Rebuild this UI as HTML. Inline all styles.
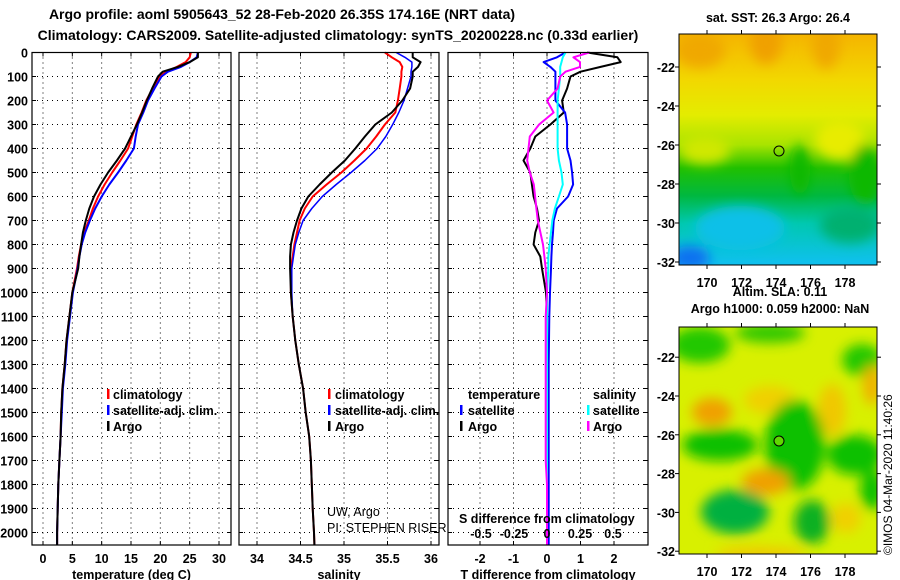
<!DOCTYPE html>
<html><head><meta charset="utf-8"><style>
body{margin:0;background:#fff;}
svg{display:block;font-family:"Liberation Sans",Arial,sans-serif;font-weight:bold;}
</style></head><body>
<svg id="c" width="900" height="580" viewBox="0 0 900 580">
<defs>
<filter id="bl" x="-50%" y="-50%" width="200%" height="200%"><feGaussianBlur stdDeviation="6"/></filter>
<filter id="bl2" x="-50%" y="-50%" width="200%" height="200%"><feGaussianBlur stdDeviation="6"/></filter>
<clipPath id="m1c"><rect x="679" y="34" width="198" height="231"/></clipPath>
<clipPath id="m2c"><rect x="679" y="327" width="198" height="227"/></clipPath>
<linearGradient id="sst" x1="0" y1="0" x2="0" y2="1">
<stop offset="0" stop-color="#f5b400"/><stop offset="0.2" stop-color="#f2d800"/>
<stop offset="0.35" stop-color="#e4ec00"/><stop offset="0.48" stop-color="#a8e400"/>
<stop offset="0.58" stop-color="#20c000"/><stop offset="0.7" stop-color="#00b840"/>
<stop offset="0.82" stop-color="#00c8b0"/><stop offset="1" stop-color="#10c0f0"/>
</linearGradient>
</defs>
<text x="282" y="19" text-anchor="middle" font-size="14">Argo profile: aoml 5905643_52 28-Feb-2020 26.35S 174.16E (NRT data)</text>
<text x="338" y="40" text-anchor="middle" font-size="14">Climatology: CARS2009. Satellite-adjusted climatology: synTS_20200228.nc (0.33d earlier)</text>
<g id="plots"></g>
<g>
<text x="778" y="22" text-anchor="middle" font-size="12.5">sat. SST: 26.3 Argo: 26.4</text>
<g clip-path="url(#m1c)">
<rect x="679" y="34" width="198" height="231" fill="url(#sst)"/>
<g filter="url(#bl2)">
<ellipse cx="700" cy="50" rx="25" ry="18" fill="#f0a800"/>
<ellipse cx="766" cy="42" rx="16" ry="22" fill="#f0a000"/>
<ellipse cx="826" cy="45" rx="14" ry="24" fill="#f0a800"/>
<ellipse cx="840" cy="140" rx="25" ry="20" fill="#e8ec00"/>
<ellipse cx="705" cy="150" rx="25" ry="14" fill="#d0e800"/>
<ellipse cx="800" cy="170" rx="10" ry="25" fill="#10b800"/>
<ellipse cx="865" cy="175" rx="16" ry="30" fill="#10b800"/>
<ellipse cx="740" cy="228" rx="45" ry="22" fill="#10c0e8"/>
<ellipse cx="690" cy="258" rx="20" ry="12" fill="#1070f0"/>
<ellipse cx="850" cy="225" rx="30" ry="18" fill="#00b070"/>
</g>
</g>
<rect x="679" y="34" width="198" height="231" fill="none" stroke="#000"/>
<circle cx="779" cy="151" r="5" fill="none" stroke="#000"/>
<g id="m1ax"></g>
<text x="780" y="296" text-anchor="middle" font-size="12.5">Altim. SLA: 0.11</text>
<text x="780" y="313" text-anchor="middle" font-size="12.5">Argo h1000: 0.059 h2000: NaN</text>
</g>
<g>
<g clip-path="url(#m2c)">
<rect x="679" y="327" width="198" height="227" fill="#d8f000"/>
<g filter="url(#bl)">
<ellipse cx="700" cy="345" rx="30" ry="18" fill="#20c800"/>
<ellipse cx="770" cy="333" rx="35" ry="10" fill="#30c800"/>
<ellipse cx="862" cy="360" rx="20" ry="16" fill="#20c800"/>
<ellipse cx="712" cy="412" rx="20" ry="14" fill="#f0a000"/>
<ellipse cx="770" cy="400" rx="26" ry="14" fill="#f0d000"/>
<ellipse cx="832" cy="410" rx="14" ry="26" fill="#f0c800"/>
<ellipse cx="872" cy="385" rx="9" ry="20" fill="#f0b000"/>
<ellipse cx="720" cy="445" rx="38" ry="16" fill="#10c000"/>
<ellipse cx="795" cy="445" rx="30" ry="45" fill="#10c000"/>
<ellipse cx="855" cy="455" rx="28" ry="20" fill="#10c000"/>
<ellipse cx="766" cy="482" rx="24" ry="13" fill="#f0a000"/>
<ellipse cx="735" cy="512" rx="34" ry="22" fill="#00b040"/>
<ellipse cx="812" cy="522" rx="18" ry="22" fill="#10b020"/>
<ellipse cx="846" cy="518" rx="15" ry="15" fill="#f0d000"/>
<ellipse cx="872" cy="490" rx="12" ry="20" fill="#10c000"/>
<ellipse cx="760" cy="554" rx="45" ry="7" fill="#f0c800"/>
</g>
</g>
<rect x="679" y="327" width="198" height="227" fill="none" stroke="#000"/>
<circle cx="779" cy="441" r="5" fill="#60d800" stroke="#000"/>
<g id="m2ax"></g>
</g>
<text transform="translate(892,555) rotate(-90)" font-size="12" font-weight="normal">©IMOS 04-Mar-2020 11:40:26</text>
</svg>
<script>
// depth levels (dbar)
const depths=[0,20,40,60,80,100,150,200,250,300,350,400,450,500,550,600,650,700,750,800,850,900,1000,1100,1200,1300,1400,1500,1600,1700,1800,1900,2000,2050];
// temperature (deg C)
const tempClim=[25.2,25.0,24.3,22.8,21.0,19.9,18.7,17.6,16.8,15.9,15.2,14.5,13.2,11.8,10.5,9.4,8.5,7.8,7.0,6.5,6.1,5.8,5.0,4.5,4.0,3.7,3.3,3.1,3.0,2.8,2.6,2.5,2.4,2.4];
const tempSat=[26.4,26.2,25.0,23.5,21.3,20.2,19.0,17.9,17.1,16.2,15.8,15.5,14.2,12.8,11.3,10.0,8.9,8.0,7.2,6.6,6.2,5.9,5.1,4.6,4.1,3.8,3.4,3.2,3.0,2.8,2.6,2.5,2.4,2.4];
const tempArgo=[26.4,26.4,25.0,23.0,20.4,19.6,18.6,17.7,16.9,16.0,15.0,14.0,12.6,11.1,9.8,8.7,7.9,7.3,6.8,6.5,6.2,6.0,5.0,4.5,4.0,3.7,3.3,3.1,3.0,2.8,2.6,2.5,2.4,2.4];
// salinity
const salClim=[35.47,35.55,35.64,35.67,35.66,35.66,35.64,35.62,35.59,35.47,35.37,35.26,35.12,34.97,34.80,34.64,34.55,34.49,34.46,34.43,34.41,34.39,34.39,34.41,34.44,34.48,34.53,34.56,34.60,34.62,34.63,34.64,34.655,34.66];
const salSat=[35.60,35.70,35.78,35.78,35.77,35.77,35.73,35.69,35.63,35.56,35.48,35.38,35.24,35.08,34.91,34.75,34.63,34.53,34.48,34.44,34.42,34.40,34.40,34.41,34.44,34.48,34.53,34.56,34.60,34.62,34.63,34.64,34.655,34.66];
const salArgo=[35.79,35.79,35.88,35.85,35.79,35.79,35.76,35.67,35.55,35.36,35.24,35.13,35.01,34.86,34.72,34.59,34.51,34.46,34.42,34.39,34.38,34.38,34.39,34.41,34.44,34.48,34.53,34.56,34.60,34.62,34.63,34.64,34.655,34.66];
// differences from climatology
const tDiffSat=[0.55,0.3,-0.1,0.1,0.25,0.25,0.25,0.25,0.54,0.6,0.6,0.6,0.7,0.75,0.78,0.63,0.3,0.2,0.18,0.15,0.13,0.12,0.09,0.07,0.06,0.05,0.05,0.05,0.05,0.05,0.05,0.05,0.05,0.05];
const tDiffArgo=[1.2,2.1,2.2,1.6,1.0,0.7,0.6,0.45,0.5,0.1,-0.35,-0.5,-0.7,-0.5,-0.45,-0.4,-0.3,-0.24,-0.35,-0.4,-0.2,-0.15,-0.03,0,0,0,0,0,0,0,0,0,0,0];
const sDiffSat=[0.14,0.12,0.11,0.1,0.1,0.1,0.09,0.08,0.08,0.08,0.08,0.08,0.09,0.11,0.12,0.09,0.06,0.04,0.03,0.02,0.01,0.01,0.0,0.0,0.0,0.0,0.0,0.0,0.0,0.0,0.0,0.0,0.0,0.0];
const sDiffArgo=[0.32,0.2,0.25,0.25,0.14,0.1,0.08,0.0,0.05,-0.06,-0.13,-0.14,-0.15,-0.13,-0.1,-0.09,-0.08,-0.07,-0.05,-0.03,-0.02,-0.01,0.0,-0.01,-0.01,-0.01,-0.01,-0.01,-0.01,-0.01,0.0,0.0,0.0,0.0];
const depthTicks=[0,100,200,300,400,500,600,700,800,900,1000,1100,1200,1300,1400,1500,1600,1700,1800,1900,2000];
const tempTicks=[0,5,10,15,20,25,30];
const salTicks=[34,34.5,35,35.5,36];
const salTickLabels=["34","34.5","35","35.5","36"];
const tdTicks=[-2,-1,0,1,2];
const sdTicks=[-0.5,-0.25,0,0.25,0.5];
const sdTickLabels=["-0.5","-0.25","0","0.25","0.5"];
const lonTicks=[170,172,174,176,178];
const lat1Ticks=[-22,-24,-26,-28,-30,-32];
const lat2Ticks=[-22,-24,-26,-28,-30,-32];

const NS='http://www.w3.org/2000/svg';
const root=document.getElementById('plots');
function mk(tag,at,parent){const e=document.createElementNS(NS,tag);for(const k in at)e.setAttribute(k,at[k]);(parent||root).appendChild(e);return e;}
const TOP=52.5, PB=545;
const yD=d=>TOP+d*0.24;
const panels=[
 {x0:32,x1:231,sx:v=>43+v*(176/30),ticks:tempTicks,labels:tempTicks.map(String),title:'temperature (deg C)',name:'temperature'},
 {x0:239,x1:439,sx:v=>257+(v-34)*87,ticks:salTicks,labels:salTickLabels,title:'salinity',name:'salinity'},
 {x0:448,x1:648,sx:v=>547+v*33.5,ticks:tdTicks,labels:tdTicks.map(String),title:'T difference from climatology',name:'difference'}
];
const sxS=v=>547+v*132;
panels.forEach((p,i)=>{
 const g=mk('g',{});
 
 
 p.g=g;
 depthTicks.forEach(d=>{
  const l=mk('line',{x1:p.x0,x2:p.x1,y1:yD(d),y2:yD(d),stroke:'#000','stroke-width':1,'stroke-dasharray':'1,4'},g);
  
  
  mk('line',{x1:p.x0,x2:p.x0+4,y1:yD(d),y2:yD(d),stroke:'#000'},g);
  mk('line',{x1:p.x1,x2:p.x1-4,y1:yD(d),y2:yD(d),stroke:'#000'},g);
 });
 p.ticks.forEach((t,j)=>{
  const x=p.sx(t);
  const l=mk('line',{x1:x,x2:x,y1:TOP,y2:PB,stroke:'#000','stroke-dasharray':'1,4'},g);
  
  
  mk('line',{x1:x,x2:x,y1:PB,y2:PB-4,stroke:'#000'},g);
  mk('line',{x1:x,x2:x,y1:TOP,y2:TOP+4,stroke:'#000'},g);
  const tx=mk('text',{x:x,y:563,'text-anchor':'middle','font-size':12.5},g);
  tx.textContent=p.labels[j];
  
  
 });
 const ti=mk('text',{x:(p.x0+p.x1)/2,y:579,'text-anchor':'middle','font-size':12.5},g);
 ti.textContent=p.title;
 
 
});
depthTicks.forEach(d=>{
 const t=mk('text',{x:28,y:yD(d)+5,'text-anchor':'end','font-size':12.5});
 t.textContent=String(d);
 
 
});
function line(vals,sx,color,w,name,g){
 const pts=vals.map((v,i)=>sx(v).toFixed(1)+','+yD(depths[i]).toFixed(1)).join(' ');
 const e=mk('polyline',{points:pts,fill:'none',stroke:color,'stroke-width':w,'stroke-linejoin':'round'},g);
 
 
}
const P=panels;
line(tempClim,P[0].sx,'#f00',2,'temp-climatology-line',P[0].g);
line(tempSat,P[0].sx,'#00f',2,'temp-satellite-line',P[0].g);
line(tempArgo,P[0].sx,'#000',2,'temp-argo-line',P[0].g);
line(salClim,P[1].sx,'#f00',2,'sal-climatology-line',P[1].g);
line(salSat,P[1].sx,'#00f',1.5,'sal-satellite-line',P[1].g);
line(salArgo,P[1].sx,'#000',2,'sal-argo-line',P[1].g);
line(tDiffArgo,P[2].sx,'#000',2,'tdiff-argo-line',P[2].g);
line(tDiffSat,P[2].sx,'#00f',2,'tdiff-satellite-line',P[2].g);
line(sDiffSat,sxS,'#0ff',2,'sdiff-satellite-line',P[2].g);
line(sDiffArgo,sxS,'#f0f',2,'sdiff-argo-line',P[2].g);
panels.forEach(p=>{
 const r=mk('rect',{x:p.x0,y:TOP,width:p.x1-p.x0,height:PB-TOP,fill:'none',stroke:'#000','stroke-width':1.2},p.g);
 
 
});
sdTicks.forEach((t,j)=>{
 const tx=mk('text',{x:sxS(t),y:538,'text-anchor':'middle','font-size':12.5},P[2].g);
 tx.textContent=sdTickLabels[j];
 
 
});
function txt(x,y,s,name,g,extra){
 const t=mk('text',Object.assign({x:x,y:y,'font-size':12.5},extra||{}),g);
 t.textContent=s;
 
 
}
function mark(x,y,c,name,g){
 const r=mk('rect',{x:x,y:y-11,width:2.5,height:10,fill:c},g);
 
 
}
[[0,107,113],[1,328,335]].forEach(([i,mx,tx])=>{
 const g=P[i].g;
 mark(mx,400,'#f00','legend-climatology-marker',g);txt(tx,399,'climatology','legend-climatology',g);
 mark(mx,416,'#00f','legend-satellite-marker',g);txt(tx,415,'satellite-adj. clim.','legend-satellite',g);
 mark(mx,432,'#000','legend-argo-marker',g);txt(tx,431,'Argo','legend-argo',g);
});
txt(327,516,'UW, Argo','credit-line-1',P[1].g,{'font-weight':'normal'});
txt(327,532,'PI: STEPHEN RISER','credit-line-2',P[1].g,{'font-weight':'normal'});
const g3=P[2].g;
txt(468,399,'temperature','legend-temperature-header',g3);
mark(460,416,'#00f','legend-t-satellite-marker',g3);txt(468,415,'satellite','legend-t-satellite',g3);
mark(460,432,'#000','legend-t-argo-marker',g3);txt(468,431,'Argo','legend-t-argo',g3);
txt(593,399,'salinity','legend-salinity-header',g3);
mark(587,416,'#0ff','legend-s-satellite-marker',g3);txt(593,415,'satellite','legend-s-satellite',g3);
mark(587,432,'#f0f','legend-s-argo-marker',g3);txt(593,431,'Argo','legend-s-argo',g3);
txt(459,523,'S difference from climatology','s-diff-axis-title',g3);

function mapAxes(id,x0,x1,y0,y1,latTicks,yLat,lonY){
 const g=document.getElementById(id);
 const lx=v=>707+(v-170)*17.25;
 lonTicks.forEach(v=>{
  mk('line',{x1:lx(v),x2:lx(v),y1:y1,y2:y1+4,stroke:'#000'},g);
  mk('line',{x1:lx(v),x2:lx(v),y1:y0,y2:y0-4,stroke:'#000'},g);
  const t=mk('text',{x:lx(v),y:lonY,'text-anchor':'middle','font-size':12.5},g);
  t.textContent=String(v);
  
  
 });
 latTicks.forEach(v=>{
  const y=yLat(v);
  if(y<y0||y>y1)return;
  mk('line',{x1:x0,x2:x0-4,y1:y,y2:y,stroke:'#000'},g);
  mk('line',{x1:x1,x2:x1+4,y1:y,y2:y,stroke:'#000'},g);
  const t=mk('text',{x:675,y:y+5,'text-anchor':'end','font-size':12.5},g);
  t.textContent=String(v);
  
  
 });
}
mapAxes('m1ax',679,877,34,265,lat1Ticks,v=>67+(-22-v)*19.5,287);
mapAxes('m2ax',679,877,327,554,lat2Ticks,v=>396+(-24-v)*19.4,576);
</script>
</body></html>
